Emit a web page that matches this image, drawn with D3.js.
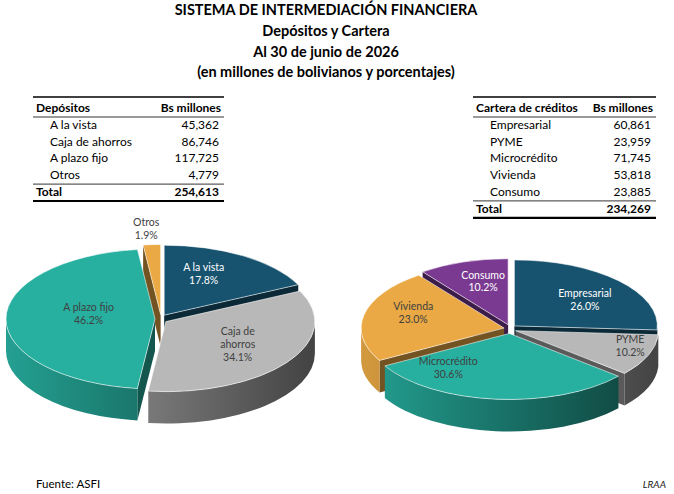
<!DOCTYPE html>
<html>
<head>
<meta charset="UTF-8">
<title>Depósitos y Cartera</title>
<style>
  body { margin: 0; background: #fff; }
  svg { display: block; font-family: Lato, "Open Sans", sans-serif; }
</style>
</head>
<body>
<script src="https://d3js.org/d3.v7.min.js"></script>
<script>
// datos
var depCats = ["A la vista", "Caja de ahorros", "A plazo fijo", "Otros"];
var depValues = [45362, 86746, 117725, 4779];
var depTotal = 254613;
var carCats = ["Empresarial", "PYME", "Microcrédito", "Vivienda", "Consumo"];
var carValues = [60861, 23959, 71745, 53818, 23885];
var carTotal = 234269;
var depPieLabels = [["A la vista"], ["Caja de", "ahorros"], ["A plazo fijo"], ["Otros"]];
var carPieLabels = [["Empresarial"], ["PYME"], ["Microcrédito"], ["Vivienda"], ["Consumo"]];
var titles = ["SISTEMA DE INTERMEDIACIÓN FINANCIERA", "Depósitos y Cartera",
              "Al 30 de junio de 2026", "(en millones de bolivianos y porcentajes)"];

// estilo
var depColors = ["#17536f", "#b8b8b8", "#27b0a0", "#eaa944"];
var carColors = ["#17536f", "#b8b8b8", "#27b0a0", "#eaa944", "#7b3a92"];
var depLabelColor = ["#fff", "#404040", "#404040", "#404040"];
var carLabelColor = ["#fff", "#404040", "#404040", "#404040", "#fff"];
// ajuste fino de etiquetas (px)
var depNudge = [[-8, -6], [-1, -2], [23, -5], [-3, 5]];
var carNudge = [[8, 1], [35, 0], [-53, -5], [-7, -7], [2, -6]];

var width = 674, height = 494;
var svg = d3.select("body").append("svg")
    .attr("width", width).attr("height", height);
var defs = svg.append("defs");

// titulo
svg.append("g").selectAll("text")
    .data(titles).enter().append("text")
    .attr("x", 326)
    .attr("y", function(d, i) { return 15 + i * 20.8; })
    .attr("text-anchor", "middle")
    .attr("font-size", 14.5)
    .attr("font-weight", "bold")
    .attr("fill", "#000")
    .text(function(d) { return d; });

var fmt = d3.format(",");

// tablas
function drawTable(x0, x1, top, head, cats, values, total) {
    var g = svg.append("g");
    var rowH = 16.8;
    var y = d3.scaleLinear().domain([0, 1]).range([top + 11, top + 11 + rowH]);
    g.append("line").attr("x1", x0).attr("x2", x1).attr("y1", top).attr("y2", top)
        .attr("stroke", "#000").attr("stroke-width", 1.5);
    g.append("text").attr("x", x0 + 3).attr("y", y(0) + 4)
        .attr("font-size", 12).attr("font-weight", "bold").text(head);
    g.append("text").attr("x", x1 - 3).attr("y", y(0) + 4).attr("text-anchor", "end")
        .attr("font-size", 12).attr("font-weight", "bold").text("Bs millones");
    g.append("line").attr("x1", x0).attr("x2", x1)
        .attr("y1", top + 20).attr("y2", top + 20)
        .attr("stroke", "#000").attr("stroke-width", 0.8);
    var rows = g.selectAll(".row").data(cats).enter().append("g").attr("class", "row");
    rows.append("text").attr("x", x0 + 17)
        .attr("y", function(d, i) { return y(i + 1) + 4; })
        .attr("font-size", 12).attr("fill", "#000").text(function(d) { return d; });
    rows.append("text").attr("x", x1 - 5).attr("text-anchor", "end")
        .attr("y", function(d, i) { return y(i + 1) + 4; })
        .attr("font-size", 12).attr("fill", "#000")
        .text(function(d, i) { return fmt(values[i]); });
    var ly = y(cats.length + 0.5) + 0.5;
    g.append("line").attr("x1", x0).attr("x2", x1).attr("y1", ly).attr("y2", ly)
        .attr("stroke", "#000").attr("stroke-width", 0.8);
    var ty = y(cats.length + 1) + 4;
    g.append("text").attr("x", x0 + 3).attr("y", ty)
        .attr("font-size", 12).attr("font-weight", "bold").text("Total");
    g.append("text").attr("x", x1 - 5).attr("y", ty).attr("text-anchor", "end")
        .attr("font-size", 12).attr("font-weight", "bold").text(fmt(total));
    g.append("line").attr("x1", x0).attr("x2", x1).attr("y1", ty + 5).attr("y2", ty + 5)
        .attr("stroke", "#000").attr("stroke-width", 2.2);
}
drawTable(33, 224, 97, "Depósitos", depCats, depValues, depTotal);
drawTable(473, 656, 97, "Cartera de créditos", carCats, carValues, carTotal);

// pastel 3D
function pie3d(id, cats, values, colors, lines, labColors, nudge, o) {
    var g = svg.append("g").attr("transform", "translate(" + o.cx + "," + o.cy + ")");
    var arcs = d3.pie().sort(null).value(function(d) { return d; })(values);
    var sum = d3.sum(values);
    var pct = d3.format(".1%");
    var yk = 0.75;

    arcs.forEach(function(d, i) {
        var m = (d.startAngle + d.endAngle) / 2;
        d.ox = o.e * Math.sin(m);
        d.oy = -o.e * Math.cos(m) * yk;
        d.mid = m;
        d.i = i;
        var c = d3.color(colors[i]);
        var gr = defs.append("linearGradient").attr("id", id + "g" + i)
            .attr("gradientUnits", "userSpaceOnUse")
            .attr("x1", o.cx - o.rx).attr("x2", o.cx + o.rx)
            .attr("y1", 0).attr("y2", 0);
        gr.append("stop").attr("offset", "0%").attr("stop-color", c.darker(0.3));
        gr.append("stop").attr("offset", "100%").attr("stop-color", c.darker(2.8));
    });

    function px(d, a) { return d.ox + o.rx * Math.sin(a); }
    function py(d, a, h) { return d.oy - o.ry * Math.cos(a) + (h || 0); }
    function arcTo(d, a0, a1, h, sweep) {
        var large = Math.abs(a1 - a0) > Math.PI ? 1 : 0;
        return "A" + o.rx + "," + o.ry + " 0 " + large + "," + sweep + " " +
            px(d, a1) + "," + py(d, a1, h);
    }

    // caras radiales
    var faces = [];
    arcs.forEach(function(d) {
        if (Math.sin(d.endAngle) > 0.001) faces.push({ d: d, a: d.endAngle });
        if (Math.sin(d.startAngle) < -0.001) faces.push({ d: d, a: d.startAngle });
    });
    faces.sort(function(p, q) { return -Math.cos(p.a) - -Math.cos(q.a); });
    g.selectAll(".face").data(faces).enter().append("path")
        .attr("class", "face")
        .attr("fill", function(f) { return d3.color(colors[f.d.i]).darker(2); })
        .attr("d", function(f) {
            var d = f.d, a = f.a;
            return "M" + d.ox + "," + d.oy +
                "L" + px(d, a) + "," + py(d, a) +
                "L" + px(d, a) + "," + py(d, a, o.h) +
                "L" + d.ox + "," + (d.oy + o.h) + "Z";
        });

    // paredes exteriores
    var walls = arcs.filter(function(d) {
        return d.endAngle > Math.PI / 2 && d.startAngle < 3 * Math.PI / 2;
    });
    g.selectAll(".wall").data(walls).enter().append("path")
        .attr("class", "wall")
        .attr("transform", "translate(" + (-o.cx) + ",0)")
        .attr("fill", function(d) { return "url(#" + id + "g" + d.i + ")"; })
        .attr("d", function(d) {
            var b0 = Math.max(d.startAngle, Math.PI / 2);
            var b1 = Math.min(d.endAngle, 3 * Math.PI / 2);
            return "M" + (px(d, b0) + o.cx) + "," + py(d, b0) +
                arcTo({ ox: d.ox + o.cx, oy: d.oy }, b0, b1, 0, 1) +
                "L" + (px(d, b1) + o.cx) + "," + py(d, b1, o.h) +
                arcTo({ ox: d.ox + o.cx, oy: d.oy }, b1, b0, o.h, 0) + "Z";
        });

    // caras superiores
    g.selectAll(".top").data(arcs).enter().append("path")
        .attr("class", "top")
        .attr("fill", function(d) { return colors[d.i]; })
        .attr("stroke", "#fff").attr("stroke-width", 0.8).attr("stroke-opacity", 0.7)
        .attr("d", function(d) {
            return "M" + d.ox + "," + d.oy +
                "L" + px(d, d.startAngle) + "," + py(d, d.startAngle) +
                arcTo(d, d.startAngle, d.endAngle, 0, 1) + "Z";
        });

    // etiquetas
    var lab = g.selectAll(".lab").data(arcs).enter().append("text")
        .attr("class", "lab")
        .attr("text-anchor", "middle")
        .attr("font-size", 10.5)
        .attr("fill", function(d) { return labColors[d.i]; })
        .attr("transform", function(d) {
            var small = d.value / sum < 0.03;
            var k = small ? 1.3 : 0.6;
            var x = d.ox + o.rx * k * Math.sin(d.mid) + nudge[d.i][0];
            var y = d.oy - o.ry * k * Math.cos(d.mid) + nudge[d.i][1];
            return "translate(" + x + "," + y + ")";
        });
    lab.each(function(d) {
        var t = d3.select(this);
        var ls = lines[d.i].concat([pct(d.value / sum)]);
        var n = ls.length;
        ls.forEach(function(s, j) {
            t.append("tspan").attr("x", 0)
                .attr("y", (j - (n - 1) / 2) * 12.8 + 3.8)
                .text(s);
        });
    });
}

pie3d("dep", depCats, depValues, depColors, depPieLabels, depLabelColor, depNudge,
      { cx: 161, cy: 319, rx: 149, ry: 70, h: 32, e: 6 });
pie3d("car", carCats, carValues, carColors, carPieLabels, carLabelColor, carNudge,
      { cx: 510, cy: 329, rx: 143, ry: 66, h: 32, e: 6 });

// pie de pagina
svg.append("text").attr("x", 36).attr("y", 488).attr("font-size", 11.5)
    .attr("fill", "#000").text("Fuente: ASFI");
svg.append("text").attr("x", 666).attr("y", 488).attr("text-anchor", "end")
    .attr("font-size", 10).attr("font-style", "italic").attr("fill", "#222")
    .text("LRAA");
</script>
</body>
</html>
